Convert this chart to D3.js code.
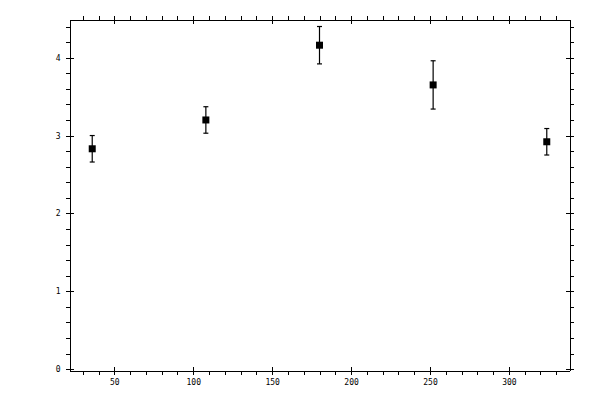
<!DOCTYPE html>
<html lang="en">
<head>
    <meta charset="UTF-8">
    <title>Error bar plot</title>
    <script src="https://d3js.org/d3.v7.min.js"></script>
    <style>
        body { margin: 0; background: #fff; }
        .axis text { font-family: "DejaVu Sans Mono", monospace; font-size: 8px; fill: #000; }
        .axis path, .axis line { stroke: #000; shape-rendering: crispEdges; }
    </style>
</head>
<body>
    <svg id="chart" width="600" height="400"></svg>
    <script>
        // data
        const xValues = [36, 108, 180, 252, 324];
        const yValues = [2.83, 3.20, 4.16, 3.65, 2.92];
        const yErrors = [0.17, 0.17, 0.24, 0.31, 0.17];

        const xMajor = [50, 100, 150, 200, 250, 300];
        const xMinor = d3.range(30, 331, 10);
        const yMajor = [0, 1, 2, 3, 4];
        const yMinor = d3.range(0, 4.41, 0.2);

        const svg = d3.select("#chart");
        const box = { left: 69.5, right: 569.5, top: 19.5, bottom: 370.5 };

        const x = d3.scaleLinear().domain([21.6, 338.4]).range([box.left, box.right]);
        const y = d3.scaleLinear().domain([-0.017, 4.49]).range([box.bottom, box.top]);

        // axes: minor ticks point outward, major ticks cross the frame
        function drawAxis(axisFn, scale, shift, labels) {
            const g = svg.append("g").attr("class", "axis").attr("transform", shift);
            g.append("g").call(axisFn(scale).tickValues(scale === x ? xMinor : yMinor)
                .tickSizeInner(4).tickSizeOuter(0).tickFormat(""));
            g.append("g").call(axisFn(scale).tickValues(scale === x ? xMajor : yMajor)
                .tickSizeInner(-4).tickSizeOuter(0).tickPadding(labels ? 9 : 0)
                .tickFormat(labels ? d3.format("d") : ""));
        }
        drawAxis(d3.axisBottom, x, `translate(0,${box.bottom})`, true);
        drawAxis(d3.axisTop, x, `translate(0,${box.top})`, false);
        drawAxis(d3.axisLeft, y, `translate(${box.left},0)`, true);
        drawAxis(d3.axisRight, y, `translate(${box.right},0)`, false);

        const data = xValues.map((d, i) => ({ x: d, y: yValues[i], e: yErrors[i] }));
        const pts = svg.append("g").selectAll("g").data(data).enter().append("g");

        pts.append("line")
            .attr("x1", d => x(d.x)).attr("x2", d => x(d.x))
            .attr("y1", d => y(d.y + d.e)).attr("y2", d => y(d.y - d.e))
            .attr("stroke", "#000").attr("stroke-width", 1.2);
        [1, -1].forEach(s => {
            pts.append("line")
                .attr("x1", d => x(d.x) - 2.5).attr("x2", d => x(d.x) + 2.5)
                .attr("y1", d => y(d.y + s * d.e)).attr("y2", d => y(d.y + s * d.e))
                .attr("stroke", "#000").attr("stroke-width", 1.2);
        });
        pts.append("rect")
            .attr("x", d => x(d.x) - 3.5).attr("y", d => y(d.y) - 3.5)
            .attr("width", 7).attr("height", 7)
            .attr("fill", "#000");
    </script>
</body>
</html>
